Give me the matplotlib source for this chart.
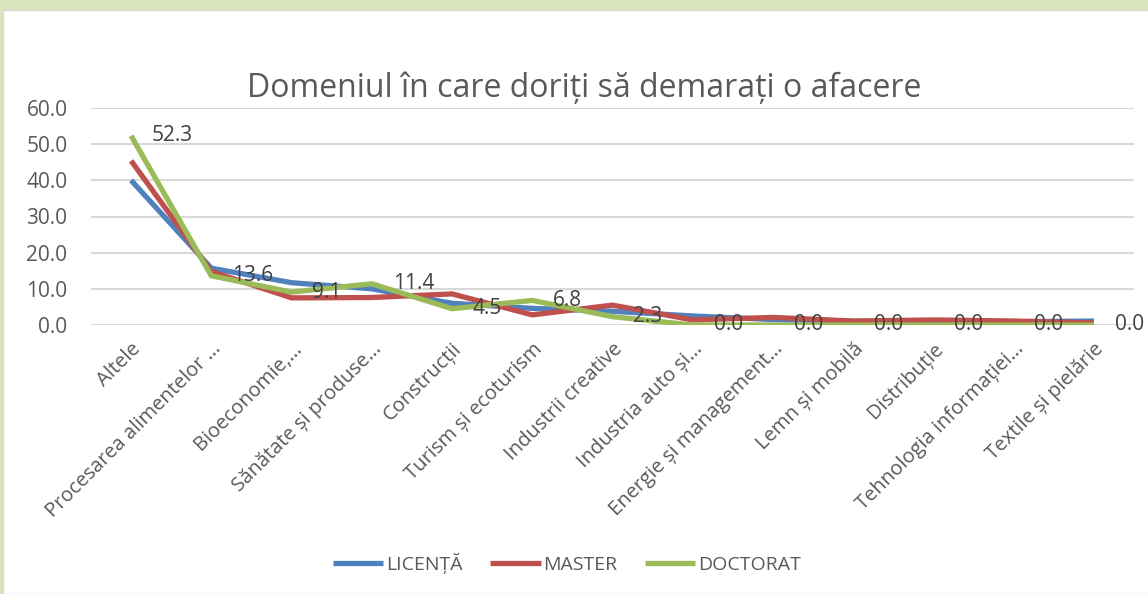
import matplotlib.pyplot as plt
from matplotlib.patches import Rectangle

plt.rcParams["font.family"] = ["Open Sans", "DejaVu Sans"]

categories = [
    "Altele",
    "Procesarea alimentelor …",
    "Bioeconomie,…",
    "Sănătate și produse…",
    "Construcții",
    "Turism și ecoturism",
    "Industrii creative",
    "Industria auto și…",
    "Energie și management…",
    "Lemn și mobilă",
    "Distribuție",
    "Tehnologia informației…",
    "Textile și pielărie",
]
licenta = [40.0, 15.7, 11.7, 10.0, 6.0, 4.6, 3.8, 2.5, 1.5, 1.0, 0.9, 0.9, 1.1]
master = [45.4, 14.8, 7.5, 7.6, 8.6, 2.8, 5.5, 1.4, 2.1, 1.1, 1.4, 1.1, 0.6]
doctorat = [52.3, 13.6, 9.1, 11.4, 4.5, 6.8, 2.3, 0.0, 0.0, 0.0, 0.0, 0.0, 0.0]
series_names = ["LICENȚĂ", "MASTER", "DOCTORAT"]
yticks = [0, 10, 20, 30, 40, 50, 60]

colors = ["#4f81bd", "#c0504d", "#9bbb59"]
text_col = "#595959"

fig = plt.figure(figsize=(11.48, 5.94), dpi=100)
fig.patch.set_facecolor("#d8e4bc")
# white chart panel
fig.patches.append(Rectangle((3 / 1148, 0), 1, (594 - 10) / 594,
                             transform=fig.transFigure, facecolor="white",
                             edgecolor="#d9d9d9", linewidth=1, zorder=-5))

ax = fig.add_axes([91 / 1148, 269 / 594, (1134 - 91) / 1148, (486 - 269) / 594])
ax.set_facecolor("none")
x = list(range(len(categories)))
for vals, name, c in zip([licenta, master, doctorat], series_names, colors):
    ax.plot(x, vals, color=c, linewidth=3.8, label=name, solid_capstyle="butt",
            solid_joinstyle="miter", zorder=3)

for xi, v in zip(x, doctorat):
    ax.annotate(f"{v:.1f}", (xi, v), xytext=(15, 0), textcoords="offset points",
                ha="left", va="center", fontsize=15, color="#404040", zorder=4)

ax.set_xlim(-0.5, len(categories) - 0.5)
ax.set_ylim(0, 60)
ax.set_yticks(yticks)
ax.set_yticklabels([f"{t:.1f}" for t in yticks], fontsize=15, color=text_col)
ax.set_xticks(x)
ax.set_xticklabels(categories, rotation=45, ha="right", rotation_mode="anchor",
                   fontsize=14.5, color=text_col)
ax.tick_params(axis="both", length=0)
ax.tick_params(axis="x", pad=10)
ax.tick_params(axis="y", pad=17)
ax.grid(axis="y", color="#d9d9d9", linewidth=1.5)
ax.set_axisbelow(True)
for s in ax.spines.values():
    s.set_visible(False)

fig.text(584 / 1148, 1 - 88 / 594, "Domeniul în care doriți să demarați o afacere",
         ha="center", va="center", fontsize=23, color=text_col)

fig.legend(loc="center", bbox_to_anchor=(567 / 1148, 1 - 563 / 594), ncol=3,
           frameon=False, fontsize=14, handlelength=2.6, handletextpad=0.15,
           columnspacing=1.4, labelcolor=text_col)

fig.savefig("out.png", dpi=100, facecolor=fig.get_facecolor())
